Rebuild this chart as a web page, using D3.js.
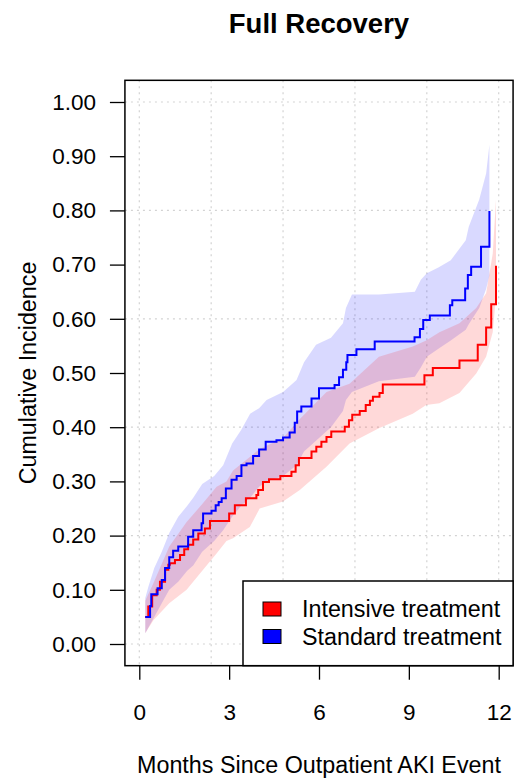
<!DOCTYPE html>
<html>
<head>
<meta charset="utf-8">
<script src="https://cdn.jsdelivr.net/npm/d3@7"></script>
<style>
  body { margin:0; background:#fff; }
  text { font-family:"Liberation Sans", Arial, sans-serif; }
</style>
</head>
<body>
<div id="chart"></div>
<script>
var width = 517, height = 778;

// step curves: [month, cumulative incidence after the step]
var intensiveSteps = [
  [0.20,0.050],[0.30,0.069],[0.43,0.090],[0.58,0.100],[0.69,0.115],[0.86,0.137],
  [0.97,0.146],[1.02,0.149],[1.19,0.155],[1.36,0.164],[1.50,0.175],[1.63,0.183],
  [1.80,0.193],[1.97,0.204],[2.19,0.213],[2.36,0.227],[3.00,0.241],[3.19,0.256],
  [3.56,0.269],[3.91,0.275],[3.97,0.284],[4.13,0.299],[4.33,0.304],[4.71,0.310],
  [5.08,0.318],[5.22,0.330],[5.33,0.343],[5.75,0.355],[5.91,0.364],[6.08,0.373],
  [6.25,0.382],[6.41,0.392],[6.86,0.401],[7.00,0.413],[7.11,0.423],[7.36,0.430],
  [7.56,0.441],[7.70,0.449],[7.80,0.456],[8.02,0.463],[8.13,0.479],[9.52,0.496],
  [9.80,0.509],[10.69,0.523],[11.30,0.552],[11.58,0.584],[11.75,0.627],[11.91,0.698]
];
var standardSteps = [
  [0.20,0.050],[0.36,0.070],[0.40,0.092],[0.61,0.103],[0.75,0.118],[0.86,0.140],
  [1.00,0.160],[1.13,0.172],[1.30,0.180],[1.63,0.198],[1.80,0.210],[2.08,0.223],
  [2.13,0.241],[2.41,0.246],[2.55,0.256],[2.65,0.262],[2.75,0.269],[2.89,0.287],
  [3.08,0.303],[3.25,0.310],[3.41,0.330],[3.58,0.333],[3.80,0.347],[4.00,0.359],
  [4.22,0.373],[4.58,0.376],[4.80,0.381],[5.02,0.390],[5.19,0.408],[5.27,0.429],
  [5.41,0.438],[5.75,0.453],[6.00,0.472],[6.52,0.478],[6.67,0.492],[6.80,0.506],
  [6.91,0.520],[6.95,0.533],[7.25,0.544],[7.86,0.558],[9.19,0.566],[9.37,0.581],
  [9.48,0.598],[9.70,0.606],[10.37,0.625],[10.45,0.634],[10.88,0.656],[10.97,0.681],
  [11.08,0.696],[11.41,0.733],[11.69,0.799]
];

// confidence bands: [month, lower, upper]
var intensiveBand = [
  [0.20,0.020,0.080],[0.47,0.044,0.112],[1.00,0.075,0.180],[1.58,0.100,0.225],
  [2.13,0.137,0.260],[2.58,0.167,0.290],[2.91,0.190,0.300],[3.13,0.195,0.320],
  [3.69,0.216,0.345],[4.02,0.250,0.360],[4.80,0.263,0.380],[5.36,0.284,0.415],
  [6.25,0.327,0.465],[7.02,0.370,0.480],[8.00,0.398,0.530],[9.13,0.425,0.549],
  [9.58,0.441,0.560],[10.02,0.444,0.575],[10.69,0.463,0.592],[11.25,0.499,0.620],
  [11.58,0.530,0.647],[11.80,0.575,0.720],[11.91,0.641,0.820]
];
var standardBand = [
  [0.20,0.020,0.085],[0.30,0.030,0.105],[0.50,0.050,0.140],[0.75,0.075,0.170],
  [1.00,0.100,0.205],[1.30,0.115,0.235],[1.60,0.135,0.255],[1.80,0.145,0.270],
  [2.10,0.170,0.295],[2.50,0.190,0.310],[2.80,0.210,0.330],[3.10,0.235,0.370],
  [3.40,0.255,0.395],[3.70,0.270,0.425],[4.00,0.290,0.435],[4.25,0.300,0.450],
  [4.80,0.310,0.465],[5.25,0.330,0.487],[5.50,0.355,0.520],[5.90,0.375,0.552],
  [6.40,0.400,0.565],[6.80,0.430,0.592],[6.90,0.450,0.620],[7.10,0.465,0.645],
  [8.00,0.485,0.645],[9.20,0.493,0.650],[9.40,0.510,0.672],[9.60,0.530,0.684],
  [10.00,0.545,0.695],[10.40,0.560,0.708],[10.90,0.580,0.745],[11.00,0.590,0.770],
  [11.35,0.620,0.820],[11.58,0.655,0.868],[11.69,0.680,0.921]
];

var xTicks = [0,3,6,9,12];
var yTicks = [0,0.1,0.2,0.3,0.4,0.5,0.6,0.7,0.8,0.9,1.0];
var xGrid = [0,2.4,4.8,7.2,9.6,12];
var yGrid = [0,0.2,0.4,0.6,0.8,1.0];
var legendLabels = ["Intensive treatment","Standard treatment"];
var legendColors = ["#FF0000","#0000FF"];

var x = d3.scaleLinear().domain([0,12]).range([139.3,498.7]);
var y = d3.scaleLinear().domain([0,1]).range([644,102]);

var boxLeft = x(-0.48), boxRight = x(12.48), boxTop = y(1.04), boxBottom = y(-0.04);

var svg = d3.select("#chart").append("svg")
    .attr("width",width).attr("height",height);

svg.append("rect").attr("width",width).attr("height",height).attr("fill","#fff");

// grid
svg.selectAll(".gx").data(xGrid).enter().append("line")
    .attr("x1",function(d){ return x(d); }).attr("x2",function(d){ return x(d); })
    .attr("y1",boxTop).attr("y2",boxBottom)
    .attr("stroke","#d3d3d3").attr("stroke-width",1.2).attr("stroke-dasharray","2,4");
svg.selectAll(".gy").data(yGrid).enter().append("line")
    .attr("y1",function(d){ return y(d); }).attr("y2",function(d){ return y(d); })
    .attr("x1",boxLeft).attr("x2",boxRight)
    .attr("stroke","#d3d3d3").attr("stroke-width",1.2).attr("stroke-dasharray","2,4");

var band = d3.area()
    .x(function(d){ return x(d[0]); })
    .y0(function(d){ return y(d[1]); })
    .y1(function(d){ return y(d[2]); });

svg.append("path").datum(standardBand).attr("d",band)
    .attr("fill","#0000FF").attr("fill-opacity",0.15);
svg.append("path").datum(intensiveBand).attr("d",band)
    .attr("fill","#FF0000").attr("fill-opacity",0.15);

var step = d3.line()
    .x(function(d){ return x(d[0]); })
    .y(function(d){ return y(d[1]); })
    .curve(d3.curveStepAfter);

svg.append("path").datum(intensiveSteps).attr("d",step)
    .attr("fill","none").attr("stroke","#FF0000").attr("stroke-width",2);
svg.append("path").datum(standardSteps).attr("d",step)
    .attr("fill","none").attr("stroke","#0000FF").attr("stroke-width",2);

// axes
var yAxis = svg.append("g").attr("transform","translate("+boxLeft+",0)")
    .call(d3.axisLeft(y).tickValues(yTicks).tickFormat(d3.format(".2f")).tickSize(15).tickPadding(14));
var xAxis = svg.append("g").attr("transform","translate(0,"+boxBottom+")")
    .call(d3.axisBottom(x).tickValues(xTicks).tickFormat(d3.format("d")).tickSize(14).tickPadding(24));
[yAxis,xAxis].forEach(function(g){
    g.select(".domain").remove();
    g.selectAll("line").attr("stroke","#000").attr("stroke-width",1.3);
    g.selectAll("text").attr("fill","#000").style("font-size","22.5px")
        .style("font-family","'Liberation Sans', Arial, sans-serif");
});

// box
svg.append("rect").attr("x",boxLeft).attr("y",boxTop)
    .attr("width",boxRight-boxLeft).attr("height",boxBottom-boxTop)
    .attr("fill","none").attr("stroke","#000").attr("stroke-width",1.5);

// legend
var lgX = 243, lgY = 581;
svg.append("rect").attr("x",lgX).attr("y",lgY)
    .attr("width",boxRight-lgX).attr("height",boxBottom-lgY)
    .attr("fill","#fff").attr("stroke","#000").attr("stroke-width",1.5);
for(var i=0; i<legendLabels.length; i++){
    svg.append("rect")
        .attr("x",263).attr("y",602+i*27.5)
        .attr("width",18).attr("height",14)
        .attr("fill",legendColors[i]).attr("stroke","#000").attr("stroke-width",1);
    svg.append("text")
        .attr("x",302).attr("y",617+i*27.5)
        .style("font-size","23.3px").style("fill","#000")
        .text(legendLabels[i]);
}

// titles
svg.append("text")
    .attr("x",(boxLeft+boxRight)/2).attr("y",33)
    .style("text-anchor","middle").style("font-size","27.5px").style("font-weight","bold")
    .text("Full Recovery");
svg.append("text")
    .attr("x",(boxLeft+boxRight)/2).attr("y",773)
    .style("text-anchor","middle").style("font-size","23.3px")
    .text("Months Since Outpatient AKI Event");
svg.append("text")
    .attr("transform","translate(36,"+((boxTop+boxBottom)/2)+") rotate(-90)")
    .style("text-anchor","middle").style("font-size","23.3px")
    .text("Cumulative Incidence");
</script>
</body>
</html>
